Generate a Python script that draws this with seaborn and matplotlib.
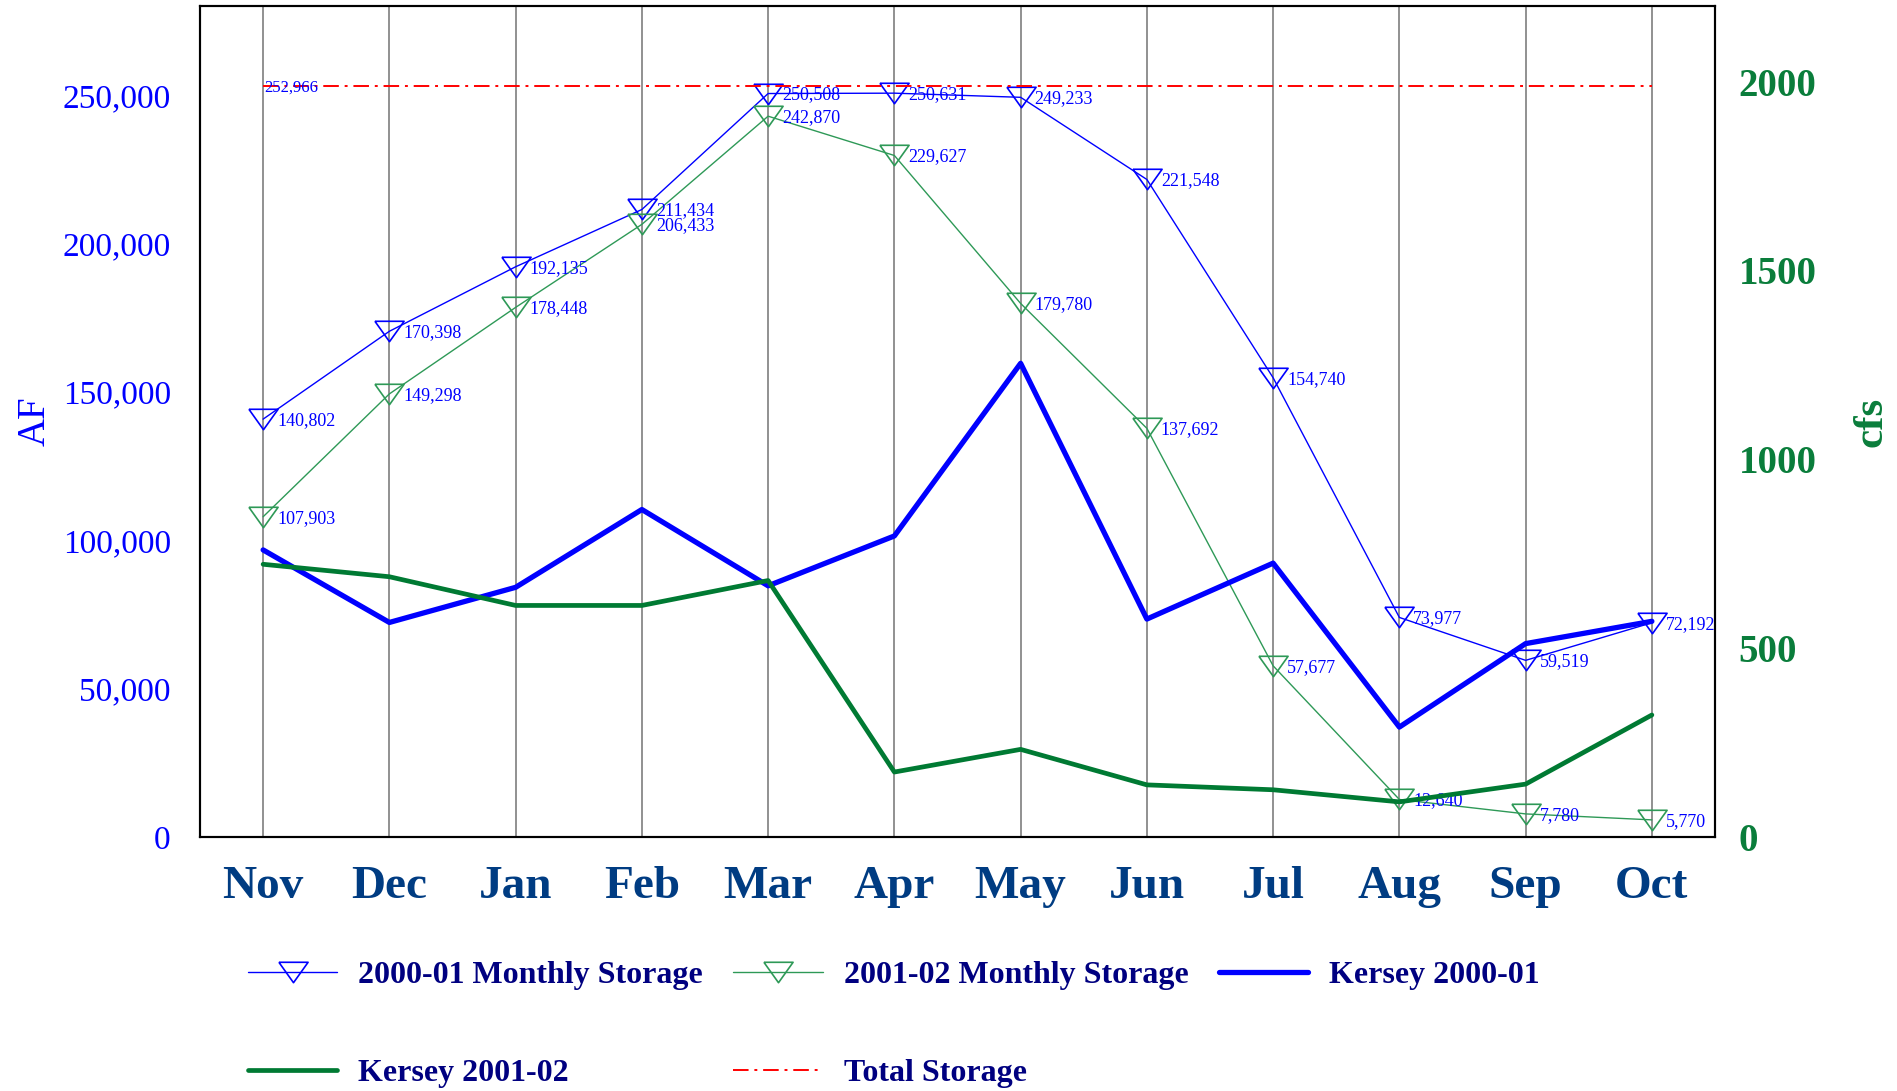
import numpy as np
import pandas as pd
import matplotlib
matplotlib.use("Agg")
import matplotlib.pyplot as plt
import seaborn as sns
from matplotlib.ticker import FuncFormatter

# data
months = ["Nov", "Dec", "Jan", "Feb", "Mar", "Apr", "May", "Jun", "Jul", "Aug", "Sep", "Oct"]
storage_2000_01 = [140802, 170398, 192135, 211434, 250508, 250631, 249233, 221548, 154740, 73977, 59519, 72192]
storage_2001_02 = [107903, 149298, 178448, 206433, 242870, 229627, 179780, 137692, 57677, 12640, 7780, 5770]
kersey_2000_01 = [760, 568, 661, 867, 665, 797, 1254, 577, 725, 291, 512, 571]
kersey_2001_02 = [722, 689, 613, 613, 679, 172, 232, 138, 125, 93, 140, 323]
total_storage = 252966

df = pd.DataFrame({
    "pos": np.arange(len(months)),
    "month": months,
    "s0001": storage_2000_01,
    "s0102": storage_2001_02,
    "k0001": kersey_2000_01,
    "k0102": kersey_2001_02,
    "total": [total_storage] * len(months),
})

sns.set_style("white")
plt.rcParams["font.family"] = ["Liberation Serif", "DejaVu Serif"]

BLUE = "#0000ff"
SGREEN = "#2e9957"
KGREEN = "#007a33"
TRI = [(-1, 0.7), (1, 0.7), (0, -0.7), (-1, 0.7)]

fig = plt.figure(figsize=(18.97, 10.91), dpi=100)
ax = fig.add_axes([200 / 1897, 1 - 837 / 1091, 1515 / 1897, 831 / 1091])
ax2 = ax.twinx()

sns.lineplot(data=df, x="pos", y="s0001", ax=ax, color=BLUE, lw=1.0, marker=TRI,
             markersize=21, markerfacecolor="none", markeredgecolor=BLUE, markeredgewidth=1.2,
             label="2000-01 Monthly Storage", legend=False)
sns.lineplot(data=df, x="pos", y="s0102", ax=ax, color=SGREEN, lw=1.0, marker=TRI,
             markersize=21, markerfacecolor="none", markeredgecolor=SGREEN, markeredgewidth=1.2,
             label="2001-02 Monthly Storage", legend=False)
sns.lineplot(data=df, x="pos", y="total", ax=ax, color="red", lw=1.4,
             dashes=False, label="Total Storage", legend=False)
ax.lines[-1].set_linestyle((0, (8, 3, 1.5, 3)))

sns.lineplot(data=df, x="pos", y="k0001", ax=ax2, color=BLUE, lw=3.8,
             label="Kersey 2000-01", legend=False)
sns.lineplot(data=df, x="pos", y="k0102", ax=ax2, color=KGREEN, lw=3.4,
             label="Kersey 2001-02", legend=False)

# value labels
for i, v in enumerate(storage_2000_01):
    ax.annotate(f"{v:,}", (i, v), xytext=(10, -1), textcoords="offset points",
                ha="left", va="center", color=BLUE, fontsize=13)
for i, v in enumerate(storage_2001_02):
    ax.annotate(f"{v:,}", (i, v), xytext=(10, -1), textcoords="offset points",
                ha="left", va="center", color=BLUE, fontsize=13)
ax.annotate(f"{total_storage:,}", (0, total_storage), xytext=(1, -1), textcoords="offset points",
            ha="left", va="center", color=BLUE, fontsize=12)

# axes
ax.set_xlim(-0.5, len(months) - 0.5)
ax.set_ylim(0, 280000)
ax2.set_ylim(0, 2200)
ax.set_xticks(df["pos"])
ax.set_xticklabels(months, fontsize=34, fontweight="bold", color="#003c82")
ax.set_yticks(np.arange(0, 250001, 50000))
ax.yaxis.set_major_formatter(FuncFormatter(lambda v, p: f"{int(v):,}"))
ax.tick_params(axis="y", length=0, pad=21, labelsize=24, labelcolor=BLUE)
ax.tick_params(axis="x", length=12, width=1.3, color="#888888", pad=9)
ax2.set_yticks([0, 500, 1000, 1500, 2000])
ax2.tick_params(axis="y", length=0, pad=17, labelsize=28, labelcolor="#0a7d3b")
for lab in ax2.get_yticklabels():
    lab.set_fontweight("bold")

ax.set_xlabel("")
ax.set_ylabel("AF", fontsize=28, color=BLUE)
ax2.set_ylabel("cfs", fontsize=31, color="#0a7d3b", fontweight="bold")
ax.yaxis.set_label_coords(-146 / 1515, 0.50)
ax2.yaxis.set_label_coords(1 + 137 / 1515, 0.50)

ax.grid(False)
ax2.grid(False)
ax.xaxis.grid(True, color="#888888", lw=1.3)
ax.set_axisbelow(True)
for a in (ax, ax2):
    for sp in a.spines.values():
        sp.set_color("black")
        sp.set_linewidth(1.5)

# legend below the plot, row-major order
h1, l1 = ax.get_legend_handles_labels()
h2, l2 = ax2.get_legend_handles_labels()
hd = dict(zip(l1 + l2, h1 + h2))
order = ["2000-01 Monthly Storage", "Kersey 2001-02", "2001-02 Monthly Storage",
         "Total Storage", "Kersey 2000-01"]
leg = fig.legend([hd[k] for k in order], order, ncol=3, loc="upper left",
                 bbox_to_anchor=(248 / 1897, 1 - 961 / 1091), frameon=False,
                 prop={"family": "Liberation Serif", "weight": "bold", "size": 23},
                 handlelength=2.8, handletextpad=0.65, columnspacing=0.95,
                 labelspacing=2.15, borderpad=0, borderaxespad=0)
for t in leg.get_texts():
    t.set_color("#000080")

fig.savefig("out.png", dpi=100)
